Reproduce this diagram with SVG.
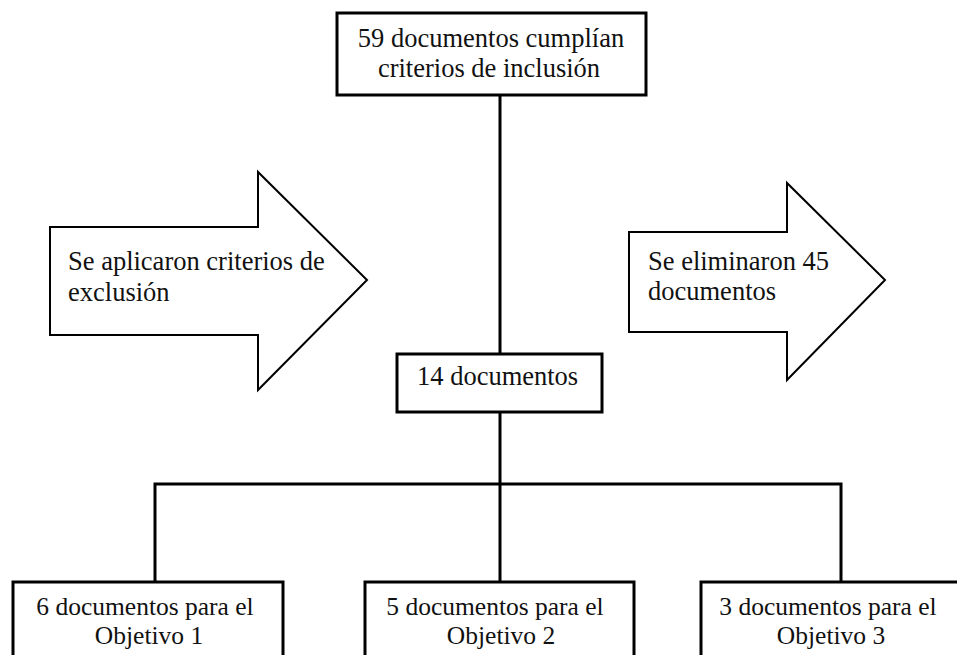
<svg xmlns="http://www.w3.org/2000/svg" width="957" height="655" viewBox="0 0 957 655">
<style>
text{font-family:"Liberation Serif","Times New Roman",serif;font-size:26.5px;fill:#111}
.sm{font-size:25.5px}
.box{fill:#fff;stroke:#000;stroke-width:3}
.arrow{fill:#fff;stroke:#000;stroke-width:2;stroke-linejoin:miter}
.conn{fill:none;stroke:#000;stroke-width:3}
.c{text-anchor:middle}
</style>
<rect width="957" height="655" fill="#fff"/>
<g id="connectors">
<line class="conn" x1="500" y1="95" x2="500" y2="354"/>
<line class="conn" x1="500" y1="412" x2="500" y2="484"/>
<polyline class="conn" points="155,582 155,484 841,484 841,582"/>
<line class="conn" x1="500" y1="484" x2="500" y2="582"/>
</g>
<g id="top">
<rect class="box" x="337" y="13" width="309" height="82" stroke-width="2"/>
<text class="c" x="491" y="47">59 documentos cumplían</text>
<text class="c" x="489" y="77">criterios de inclusión</text>
</g>
<g id="arrow-left">
<polygon class="arrow" points="50,227 258,227 258,172 367,280 258,390 258,335 50,335"/>
<text x="68" y="270">Se aplicaron criterios de</text>
<text x="68" y="301">exclusión</text>
</g>
<g id="arrow-right">
<polygon class="arrow" points="629,232 787,232 787,183 885,280 787,380 787,332 629,332"/>
<text x="648" y="270">Se eliminaron 45</text>
<text x="648" y="300">documentos</text>
</g>
<g id="mid">
<rect class="box" x="397" y="354" width="205" height="58"/>
<text x="417" y="385">14 documentos</text>
</g>
<g id="obj1">
<rect class="box" x="13" y="582" width="270" height="80"/>
<text class="c sm" x="145" y="615">6 documentos para el</text>
<text class="c sm" x="149" y="644">Objetivo 1</text>
</g>
<g id="obj2">
<rect class="box" x="365" y="582" width="269" height="80"/>
<text class="c sm" x="495" y="615">5 documentos para el</text>
<text class="c sm" x="501" y="644">Objetivo 2</text>
</g>
<g id="obj3">
<rect class="box" x="701" y="582" width="270" height="80"/>
<text class="c sm" x="828" y="615">3 documentos para el</text>
<text class="c sm" x="831" y="644">Objetivo 3</text>
</g>
</svg>
